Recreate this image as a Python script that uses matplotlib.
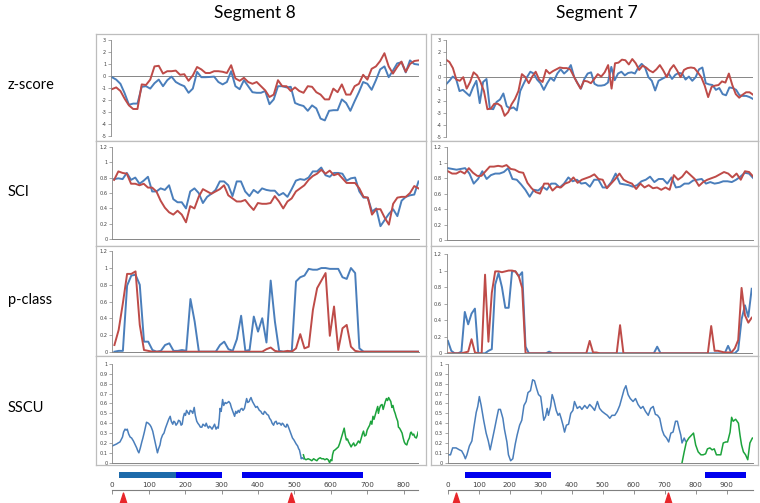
import numpy as np
import matplotlib.pyplot as plt

# ---- data ----
z8_blue = [-0.1, -0.3, -0.65, -1.45, -2.4, -2.3, -2.3, -0.9, -0.85, -1.05, -0.6, -0.3, -0.85, -0.35, -0.05, -0.5, -0.7, -0.85,
           -1.4, -1.05, 0.35, -0.1, -0.1, -0.08, -0.05, -0.5, -0.7, -0.5, 0.4, -0.85, -1.1, -0.35, -0.85, -1.35, -1.4, -1.4,
           -1.25, -2.35, -1.95, -0.85, -0.85, -0.95, -0.9, -2.25, -2.4, -2.5, -2.9, -2.45, -2.7, -3.55, -3.7, -2.9, -2.85,
           -2.85, -1.95, -2.25, -2.9, -2.1, -1.35, -0.5, -0.65, -1.15, -0.35, 0.55, 0.8, -0.1, 0.45, 1.05, 1.15, 0.3, 1.3, 1.0, 0.95]
z8_red = [-1.1, -0.95, -1.25, -1.9, -2.45, -2.75, -2.75, -0.7, -0.75, -0.3, 0.8, 0.85, 0.2, 0.4, 0.4, 0.45, 0.1, 0.15, -0.4,
          0.05, 0.75, 0.55, 0.25, 0.25, 0.4, 0.4, 0.35, 0.25, 0.9, -0.2, -0.4, -0.15, -0.5, -0.65, -0.5, -0.85, -1.2, -1.75,
          -1.55, -0.35, -0.85, -0.85, -1.25, -0.95, -1.25, -1.4, -0.85, -0.9, -1.35, -1.55, -1.95, -1.95, -1.05, -1.35, -0.7,
          -1.55, -1.55, -0.85, -0.65, 0.1, -0.3, 0.6, 0.8, 1.25, 1.9, 0.8, 0.2, 0.75, 1.2, 0.35, 1.0, 1.25, 1.3]
z7_blue = [-0.65, -0.35, 0.0, -0.2, -1.2, -1.1, -1.35, -1.6, -0.9, -0.35, -2.2, -0.45, -0.2, -2.65, -2.7, -2.1, -1.9, -1.4,
           -2.45, -2.65, -2.55, -2.8, -1.2, -0.6, -0.05, 0.4, 0.25, -0.25, -0.55, -1.1, -0.55, -0.1, -0.35, 0.25, 0.6, 0.25,
           0.5, 0.95, -0.05, -0.55, -1.0, -0.2, 0.25, 0.35, -0.6, -0.75, -0.75, -0.7, -0.5, 0.8, -0.3, 0.25, 0.4, 0.1, 0.3,
           0.35, 0.25, 0.75, 1.05, 0.75, -0.05, -0.35, -1.15, -0.35, -0.2, -0.05, 0.25, -0.2, 0.15, 0.3, 0.25, -0.25, 0.0,
           -0.35, -0.05, 0.6, 0.75, -0.55, -0.65, -0.7, -1.1, -0.95, -1.45, -1.55, -0.9, -0.95, -1.1, -1.55, -1.6, -1.6,
           -1.7, -1.85]
z7_red = [1.4, 1.2, 0.7, -0.25, -0.35, -0.05, -1.0, -0.45, 0.35, 0.1, -0.45, -1.2, -2.7, -2.65, -2.25, -2.25, -2.45, -3.25,
          -2.95, -2.3, -1.85, -1.2, 0.2, -0.05, -0.55, 0.0, 0.4, -0.25, -0.45, 0.55, 0.25, 0.45, 0.6, 0.75, 0.7, 0.7, 0.6,
          0.05, -0.5, -1.0, -0.35, -0.4, -0.55, -0.2, 0.2, 0.0, 0.35, 0.95, -1.0, 1.1, 1.15, 1.4, 1.35, 1.0, 1.45, 1.1, 0.55,
          0.9, 0.75, 0.5, 0.35, 0.6, 0.95, 0.5, -0.05, 0.6, 0.95, 0.5, -0.05, 0.55, 0.7, 0.75, 0.7, 0.35, -0.05, -0.75, -1.7,
          -0.85, -0.75, -0.7, -0.4, -0.5, 0.25, -0.7, -1.45, -1.75, -1.5, -1.3, -1.3, -1.5]

sci8_blue = [0.78, 0.79, 0.78, 0.86, 0.77, 0.80, 0.72, 0.76, 0.81, 0.62, 0.62, 0.66, 0.64, 0.70, 0.52, 0.48, 0.48, 0.40, 0.62,
             0.66, 0.60, 0.47, 0.55, 0.59, 0.64, 0.75, 0.75, 0.70, 0.56, 0.75, 0.75, 0.62, 0.56, 0.64, 0.60, 0.66, 0.64, 0.63,
             0.63, 0.57, 0.60, 0.55, 0.65, 0.76, 0.78, 0.77, 0.80, 0.88, 0.88, 0.93, 0.83, 0.81, 0.86, 0.86, 0.85, 0.76, 0.79,
             0.80, 0.62, 0.54, 0.54, 0.36, 0.40, 0.17, 0.25, 0.33, 0.39, 0.30, 0.50, 0.55, 0.57, 0.58, 0.75]
sci8_red = [0.77, 0.88, 0.86, 0.85, 0.72, 0.72, 0.70, 0.72, 0.67, 0.67, 0.62, 0.50, 0.41, 0.35, 0.32, 0.37, 0.32, 0.22, 0.43,
            0.40, 0.55, 0.65, 0.62, 0.59, 0.62, 0.65, 0.70, 0.57, 0.53, 0.49, 0.49, 0.51, 0.44, 0.38, 0.47, 0.46, 0.46, 0.47,
            0.56, 0.49, 0.40, 0.49, 0.53, 0.62, 0.66, 0.70, 0.77, 0.82, 0.85, 0.90, 0.85, 0.89, 0.83, 0.85, 0.79, 0.73, 0.73,
            0.73, 0.66, 0.55, 0.54, 0.32, 0.39, 0.39, 0.28, 0.19, 0.46, 0.54, 0.55, 0.55, 0.60, 0.69, 0.66]
sci7_blue = [0.93, 0.92, 0.91, 0.92, 0.93, 0.86, 0.73, 0.79, 0.89, 0.79, 0.84, 0.86, 0.86, 0.88, 0.93, 0.79, 0.78, 0.72, 0.65,
             0.56, 0.65, 0.64, 0.69, 0.65, 0.73, 0.73, 0.68, 0.73, 0.81, 0.76, 0.78, 0.73, 0.74, 0.69, 0.78, 0.78, 0.68, 0.68,
             0.75, 0.86, 0.73, 0.72, 0.71, 0.69, 0.71, 0.76, 0.78, 0.82, 0.75, 0.79, 0.79, 0.73, 0.81, 0.68, 0.69, 0.73, 0.73,
             0.77, 0.78, 0.79, 0.73, 0.75, 0.73, 0.74, 0.76, 0.76, 0.75, 0.78, 0.82, 0.87, 0.86, 0.80]
sci7_red = [0.89, 0.86, 0.86, 0.89, 0.86, 0.93, 0.87, 0.83, 0.83, 0.89, 0.95, 0.95, 0.96, 0.95, 0.97, 0.92, 0.91, 0.88, 0.87,
            0.74, 0.67, 0.62, 0.60, 0.73, 0.73, 0.64, 0.69, 0.68, 0.73, 0.75, 0.81, 0.74, 0.78, 0.80, 0.82, 0.85, 0.79, 0.78,
            0.67, 0.73, 0.79, 0.86, 0.78, 0.75, 0.73, 0.66, 0.73, 0.68, 0.71, 0.67, 0.68, 0.65, 0.68, 0.65, 0.84, 0.78, 0.82,
            0.89, 0.84, 0.79, 0.70, 0.75, 0.78, 0.80, 0.82, 0.85, 0.88, 0.86, 0.81, 0.86, 0.78, 0.89, 0.88, 0.82]

pc8_blue = [0, 0.01, 0.01, 0.79, 0.91, 0.92, 0.80, 0.12, 0.12, 0.02, 0, 0.01, 0.08, 0.10, 0.01, 0.01, 0.02, 0.01, 0.63, 0.36,
            0, 0, 0, 0, 0, 0.08, 0.12, 0.03, 0.01, 0.15, 0.43, 0.01, 0.02, 0.42, 0.24, 0.40, 0.11, 0.85, 0.36, 0.01,
            0, 0, 0.01, 0.84, 0.89, 0.91, 0.99, 0.98, 0.98, 1.0, 1.0, 0.99, 0.99, 0.99, 0.89, 0.87, 1.0, 0.94, 0.04, 0,
            0, 0, 0, 0, 0, 0, 0, 0, 0, 0, 0, 0, 0]
pc8_red = [0.08, 0.26, 0.58, 0.93, 0.93, 0.96, 0.32, 0.02, 0.01, 0, 0, 0, 0, 0, 0, 0, 0, 0, 0, 0,
           0, 0, 0, 0, 0, 0, 0, 0, 0, 0, 0, 0, 0, 0, 0, 0, 0.03, 0.05, 0.01, 0,
           0, 0.01, 0, 0.04, 0.21, 0.04, 0.06, 0.50, 0.76, 0.85, 0.94, 0.19, 0.54, 0.02, 0.28, 0.32, 0.06, 0.01, 0, 0,
           0, 0, 0, 0, 0, 0, 0, 0, 0, 0, 0, 0, 0]
pc7_blue = [0.15, 0.03, 0, 0, 0.02, 0.50, 0.35, 0.48, 0.54, 0, 0, 0, 0.03, 0.05, 0.83, 0.97, 0.80, 0.55, 0.55, 0.99,
            0.99, 0.93, 0.98, 0.08, 0, 0, 0, 0, 0, 0, 0.02, 0, 0, 0, 0, 0, 0, 0, 0, 0,
            0, 0, 0, 0, 0, 0, 0, 0, 0, 0, 0, 0, 0, 0, 0, 0, 0, 0, 0, 0,
            0, 0, 0.08, 0, 0, 0, 0, 0, 0, 0, 0, 0, 0, 0, 0, 0, 0, 0, 0, 0,
            0, 0, 0, 0.09, 0, 0, 0.04, 0.41, 0.58, 0.44, 0.78]
pc7_red = [0, 0, 0, 0, 0, 0.01, 0.02, 0.17, 0.01, 0, 0, 0.95, 0.14, 0.73, 0.99, 0.99, 0.98, 0.99, 1.0, 1.0,
           0.99, 0.93, 0.79, 0, 0, 0, 0, 0, 0, 0, 0, 0, 0, 0, 0, 0, 0, 0, 0, 0,
           0, 0, 0.15, 0.01, 0.01, 0, 0, 0, 0, 0, 0, 0.34, 0, 0, 0, 0, 0, 0, 0, 0,
           0, 0, 0, 0, 0, 0, 0, 0, 0, 0, 0, 0, 0, 0, 0, 0, 0, 0, 0.33, 0.03,
           0.03, 0.02, 0.01, 0.01, 0.01, 0.06, 0.16, 0.79, 0.46, 0.37, 0.43]

# SSCU: position (bp) and value
sscu8_blue_pos = [0, 6, 12, 16, 21, 25, 28, 31, 35, 38, 41, 45, 49, 53, 58, 62, 67, 70, 73, 77, 81, 84, 88, 91, 94, 99, 104,
                  107, 111, 114, 117, 121, 124, 127, 131, 134, 138, 142, 146, 149, 152, 155, 159, 162, 166, 169, 172, 175,
                  179, 182, 186, 189, 192, 195, 198, 201, 204, 207, 211, 214, 218, 221, 225, 228, 232, 235, 239, 242, 246,
                  249, 252, 255, 258, 261, 264, 267, 270, 274, 278, 281, 285, 288, 291, 294, 296, 299, 303, 306, 310, 313,
                  317, 320, 324, 327, 330, 333, 336, 339, 342, 346, 349, 352, 356, 359, 363, 366, 369, 372, 376, 378, 381,
                  385, 388, 391, 394, 398, 401, 404, 408, 411, 415, 418, 421, 425, 429, 432, 436, 439, 443, 446, 450, 453,
                  456, 460, 464, 467, 470, 473, 477, 480, 482, 486, 489, 492, 495, 499, 502, 505, 509, 512, 514, 517, 519,
                  522, 525]
sscu8_blue_val = [0.17, 0.18, 0.19, 0.20, 0.21, 0.24, 0.26, 0.31, 0.34, 0.33, 0.34, 0.29, 0.26, 0.25, 0.22, 0.19, 0.15, 0.12,
                  0.10, 0.15, 0.21, 0.25, 0.31, 0.36, 0.41, 0.40, 0.38, 0.36, 0.32, 0.27, 0.22, 0.15, 0.10, 0.14, 0.18, 0.24,
                  0.28, 0.30, 0.35, 0.38, 0.41, 0.44, 0.47, 0.42, 0.39, 0.42, 0.41, 0.38, 0.40, 0.43, 0.42, 0.38, 0.39, 0.46,
                  0.50, 0.48, 0.53, 0.51, 0.49, 0.53, 0.52, 0.50, 0.56, 0.48, 0.42, 0.40, 0.38, 0.36, 0.36, 0.39, 0.38, 0.37,
                  0.40, 0.37, 0.35, 0.37, 0.36, 0.34, 0.37, 0.39, 0.34, 0.36, 0.35, 0.45, 0.55, 0.52, 0.64, 0.58, 0.61, 0.60,
                  0.61, 0.62, 0.60, 0.56, 0.53, 0.50, 0.47, 0.52, 0.50, 0.53, 0.51, 0.54, 0.55, 0.53, 0.55, 0.60, 0.65, 0.61,
                  0.62, 0.64, 0.66, 0.62, 0.60, 0.58, 0.56, 0.57, 0.55, 0.53, 0.52, 0.50, 0.49, 0.52, 0.51, 0.49, 0.48, 0.45,
                  0.43, 0.40, 0.38, 0.41, 0.42, 0.39, 0.40, 0.40, 0.38, 0.40, 0.39, 0.37, 0.36, 0.39, 0.38, 0.34, 0.31, 0.28,
                  0.25, 0.23, 0.21, 0.19, 0.17, 0.14, 0.13, 0.08, 0.04, 0.05, 0.04]
sscu8_green_pos = [525, 528, 532, 538, 544, 548, 553, 557, 562, 566, 571, 575, 580, 584, 589, 593, 597, 600, 603, 605, 608,
                   612, 615, 618, 621, 625, 629, 633, 637, 640, 643, 646, 649, 652, 656, 659, 663, 666, 670, 673, 676, 680,
                   684, 687, 690, 693, 697, 700, 704, 707, 710, 713, 716, 719, 722, 725, 729, 731, 734, 737, 741, 744, 747,
                   750, 753, 756, 759, 762, 765, 768, 771, 774, 777, 780, 784, 786, 789, 792, 796, 799, 802, 805, 809, 812,
                   816, 819, 821, 825, 828, 831, 835, 838, 840]
sscu8_green_val = [0.08, 0.04, 0.03, 0.04, 0.03, 0.02, 0.04, 0.03, 0.02, 0.04, 0.05, 0.04, 0.04, 0.03, 0.04, 0.03, 0.00, 0.03,
                   0.02, 0.08, 0.12, 0.13, 0.14, 0.15, 0.16, 0.20, 0.25, 0.30, 0.35, 0.28, 0.23, 0.24, 0.21, 0.19, 0.16, 0.18,
                   0.20, 0.17, 0.18, 0.20, 0.22, 0.20, 0.25, 0.29, 0.32, 0.27, 0.28, 0.33, 0.36, 0.38, 0.42, 0.39, 0.47, 0.44,
                   0.48, 0.52, 0.57, 0.50, 0.55, 0.58, 0.59, 0.54, 0.58, 0.62, 0.65, 0.63, 0.66, 0.64, 0.62, 0.56, 0.58, 0.53,
                   0.50, 0.46, 0.42, 0.36, 0.35, 0.33, 0.30, 0.25, 0.21, 0.19, 0.18, 0.22, 0.25, 0.30, 0.31, 0.28, 0.29, 0.26,
                   0.25, 0.28, 0.31]
sscu7_blue_pos = [0, 9, 16, 27, 38, 45, 52, 57, 62, 70, 78, 84, 92, 97, 102, 108, 116, 124, 131, 137, 143, 151, 158, 164,
                  170, 178, 183, 191, 196, 203, 210, 218, 224, 232, 239, 246, 253, 259, 267, 274, 280, 287, 293, 300, 305,
                  310, 316, 321, 325, 332, 337, 343, 350, 356, 361, 366, 372, 377, 383, 390, 397, 404, 409, 418, 426, 433,
                  442, 450, 458, 467, 474, 483, 490, 498, 506, 515, 523, 530, 539, 547, 555, 562, 569, 575, 582, 589, 598,
                  606, 614, 623, 630, 638, 647, 655, 663, 670, 677, 684, 692, 698, 706, 713, 720, 727, 735, 741, 747, 752,
                  756, 763, 767]
sscu7_blue_val = [0.08, 0.08, 0.15, 0.15, 0.13, 0.12, 0.08, 0.04, 0.08, 0.17, 0.22, 0.35, 0.51, 0.57, 0.67, 0.58, 0.43, 0.30,
                  0.22, 0.13, 0.22, 0.34, 0.45, 0.54, 0.54, 0.45, 0.34, 0.21, 0.08, 0.02, 0.04, 0.19, 0.28, 0.38, 0.43, 0.58,
                  0.62, 0.71, 0.73, 0.84, 0.83, 0.75, 0.69, 0.67, 0.55, 0.43, 0.47, 0.55, 0.48, 0.57, 0.69, 0.63, 0.53, 0.48,
                  0.50, 0.45, 0.38, 0.31, 0.38, 0.39, 0.50, 0.53, 0.62, 0.55, 0.57, 0.54, 0.58, 0.55, 0.59, 0.56, 0.53, 0.62,
                  0.55, 0.52, 0.50, 0.48, 0.45, 0.48, 0.48, 0.52, 0.58, 0.66, 0.74, 0.78, 0.69, 0.65, 0.62, 0.65, 0.59, 0.55,
                  0.57, 0.52, 0.48, 0.55, 0.57, 0.49, 0.48, 0.45, 0.33, 0.28, 0.25, 0.21, 0.30, 0.31, 0.42, 0.42, 0.34, 0.28,
                  0.20, 0.25, 0.22]
sscu7_green_pos = [756, 763, 770, 778, 787, 793, 800, 808, 817, 824, 832, 838, 846, 853, 860, 867, 875, 881, 889, 897, 903,
                   911, 916, 921, 929, 938, 943, 948, 954, 961, 968, 975, 983, 984]
sscu7_green_val = [0.0, 0.11, 0.21, 0.25, 0.28, 0.30, 0.18, 0.11, 0.08, 0.08, 0.09, 0.14, 0.15, 0.13, 0.14, 0.08, 0.08, 0.08,
                   0.20, 0.21, 0.21, 0.31, 0.46, 0.42, 0.44, 0.40, 0.28, 0.18, 0.11, 0.08, 0.03, 0.20, 0.25, 0.25]

# domain bars and markers under the SSCU panels
seg8_bar_start = [19, 176, 357]
seg8_bar_end = [176, 302, 690]
seg8_bar_color = ['#1d6aaa', '#0000ee', '#0000ee']
seg8_marks = [30, 492]
seg7_bar_start = [55, 829]
seg7_bar_end = [332, 961]
seg7_bar_color = ['#0000ee', '#0000ee']
seg7_marks = [26, 712]

BLUE = '#4a7ebb'
RED = '#be4b48'
GREEN = '#1ca33c'

W, H = 760, 503
fig = plt.figure(figsize=(W / 100, H / 100), dpi=100)


def rect(x0, y0, x1, y1):
    # pixel box (top-left origin) -> figure fraction
    return [x0 / W, 1 - y1 / H, (x1 - x0) / W, (y1 - y0) / H]


def frame(x0, y0, x1, y1):
    ax = fig.add_axes(rect(x0, y0, x1, y1))
    ax.set_xticks([])
    ax.set_yticks([])
    for s in ax.spines.values():
        s.set_color('#bdbdbd')
        s.set_linewidth(0.9)
    ax.set_zorder(0)
    return ax


def inner(box, ylim, ticks, labels, zero_line=False):
    ax = fig.add_axes(rect(*box))
    ax.patch.set_alpha(0)
    ax.set_zorder(1)
    ax.set_ylim(ylim)
    ax.set_yticks(ticks)
    ax.set_yticklabels(labels)
    ax.set_xticks([])
    ax.tick_params(axis='y', length=2, width=0.5, color='#868686', labelsize=3.6,
                   labelcolor='#404040', pad=1.5)
    ax.spines['top'].set_visible(False)
    ax.spines['right'].set_visible(False)
    ax.spines['left'].set_color('#868686')
    ax.spines['left'].set_linewidth(0.6)
    if zero_line:
        ax.spines['bottom'].set_visible(False)
        ax.axhline(0, color='#868686', lw=0.7, zorder=1)
    else:
        ax.spines['bottom'].set_color('#868686')
        ax.spines['bottom'].set_linewidth(0.7)
    return ax


z_ticks = [3, 2, 1, 0, -1, -2, -3, -4, -5]
z_labels = [str(t) for t in z_ticks]
s_ticks = [0, 0.2, 0.4, 0.6, 0.8, 1.0, 1.2]
s_labels = ['0', '0.2', '0.4', '0.6', '0.8', '1', '1.2']
u_ticks = [0, 0.1, 0.2, 0.3, 0.4, 0.5, 0.6, 0.7, 0.8, 0.9, 1.0]
u_labels = ['0', '0.1', '0.2', '0.3', '0.4', '0.5', '0.6', '0.7', '0.8', '0.9', '1']

# panel frames
rows = [(34, 141), (141, 246), (246, 356), (356, 465)]
for (y0, y1) in rows:
    frame(96, y0, 426, y1)
    frame(431, y0, 758, y1)


def pair(ax, blue, red, x_left):
    ax.plot(np.linspace(0, 1, len(blue)), blue, color=BLUE, lw=1.4)
    ax.plot(np.linspace(0, 1, len(red)), red, color=RED, lw=1.4)
    ax.set_xlim(x_left, 1)


# z-score
ax = inner((111, 40, 418.5, 136), (-5, 3), z_ticks, z_labels, zero_line=True)
pair(ax, z8_blue, z8_red, -0.003)
ax = inner((446, 40.3, 753, 137), (-5, 3), z_ticks, z_labels, zero_line=True)
pair(ax, z7_blue, z7_red, 0)

# SCI
ax = inner((112.3, 146.7, 418.5, 239.3), (0, 1.2), s_ticks, s_labels)
pair(ax, sci8_blue, sci8_red, -0.006)
ax = inner((446.7, 147.3, 753.3, 240), (0, 1.2), s_ticks, s_labels)
pair(ax, sci7_blue, sci7_red, -0.004)

# p-class
ax = inner((112.3, 251.3, 418.5, 351.7), (0, 1.2), s_ticks, s_labels)
pair(ax, pc8_blue, pc8_red, -0.007)
ax = inner((446.7, 254, 751.7, 353.3), (0, 1.2), s_ticks, s_labels)
pair(ax, pc7_blue, pc7_red, -0.004)

# SSCU
ax = inner((112.3, 364, 418.1, 462.7), (0, 1), u_ticks, u_labels)
ax.plot(sscu8_blue_pos, sscu8_blue_val, color=BLUE, lw=1.1)
ax.plot(sscu8_green_pos, sscu8_green_val, color=GREEN, lw=1.1)
ax.set_xlim(0, 840)
ax = inner((447.7, 364, 752.7, 462.7), (0, 1), u_ticks, u_labels)
ax.plot(sscu7_blue_pos, sscu7_blue_val, color=BLUE, lw=1.1)
ax.plot(sscu7_green_pos, sscu7_green_val, color=GREEN, lw=1.1)
ax.set_xlim(0, 984)


# ruler strip with domain bars and red markers
tri = [(-0.32, -0.5), (0.32, -0.5), (0.0, 0.5), (-0.32, -0.5)]


def ruler(x0, x1, xmax, ticks, starts, ends, colors, marks):
    bx = fig.add_axes(rect(x0, 472, x1, 478))
    bx.barh(0.5, np.array(ends) - np.array(starts), left=starts, height=1, color=colors)
    bx.set_xlim(0, xmax)
    bx.set_ylim(0, 1)
    bx.axis('off')
    rx = fig.add_axes(rect(x0, 490, x1, 503))
    rx.set_xlim(0, xmax)
    rx.set_ylim(0, 1)
    rx.patch.set_alpha(0)
    for s in ['left', 'right', 'bottom']:
        rx.spines[s].set_visible(False)
    rx.spines['top'].set_color('#7f7f7f')
    rx.spines['top'].set_linewidth(0.8)
    rx.set_yticks([])
    rx.xaxis.tick_top()
    rx.set_xticks(ticks)
    rx.tick_params(axis='x', direction='in', length=3, width=0.6, color='#7f7f7f',
                   labelsize=5.2, labelcolor='#404040', pad=1.5)
    rx.scatter(marks, [0.38] * len(marks), marker=tri, s=60, color='#e8262b', clip_on=False)


ruler(112.3, 418.1, 840, list(range(0, 900, 100)), seg8_bar_start, seg8_bar_end, seg8_bar_color, seg8_marks)
ruler(447.7, 752.7, 984, list(range(0, 1000, 100)), seg7_bar_start, seg7_bar_end, seg7_bar_color, seg7_marks)

# titles and row labels
fig.text(255 / W, 1 - 13 / H, 'Segment 8', ha='center', va='center', fontsize=12.5, family='Lato')
fig.text(597 / W, 1 - 13 / H, 'Segment 7', ha='center', va='center', fontsize=12.5, family='Lato')
for label, yc in [('z-score', 85), ('SCI', 192), ('p-class', 300), ('SSCU', 408)]:
    fig.text(8 / W, 1 - yc / H, label, ha='left', va='center', fontsize=10.5, family='Lato')

fig.savefig('out.png', dpi=100)
